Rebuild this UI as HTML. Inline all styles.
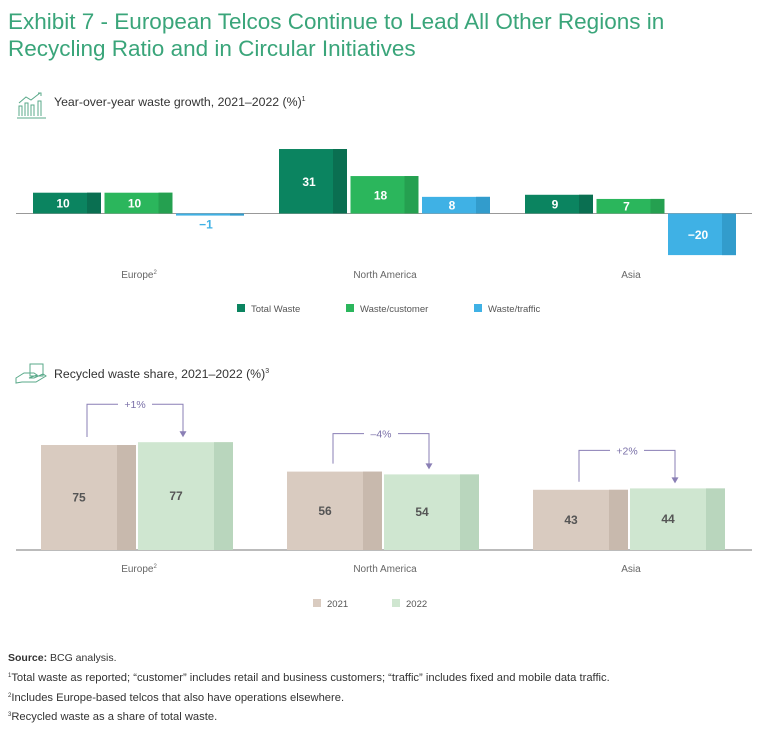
<!DOCTYPE html>
<html><head><meta charset="utf-8"><style>
body{margin:0;background:#fff;font-family:"Liberation Sans",sans-serif;}
#wrap{position:relative;width:768px;height:740px;overflow:hidden;}
.t{position:absolute;white-space:nowrap;}
</style></head><body>
<div id="wrap">
<div class="t" style="left:8px;top:8px;font-size:22.5px;line-height:27px;color:#3aa57a;">Exhibit 7 - European Telcos Continue to Lead All Other Regions in<br>Recycling Ratio and in Circular Initiatives</div>
<svg width="768" height="740" style="position:absolute;left:0;top:0">
<g fill="none" stroke="#5aa98a" stroke-width="1">
<path d="M17 118h29M19 116v-10h3v10M25 116v-13h3v13M31 116v-11h3v11M38 116v-15h3v15M19 103l7-6 5 3 9-7"/><path d="M38 93h3v3"/></g>
<g fill="none" stroke="#5aa98a" stroke-width="1">
<path d="M30 364h13v12h-13z M16 378l8-5h10l3 2-8 3h5l9-4 3 2-10 6H22l-6 1z"/></g>
<text x="54" y="106" font-size="12.3" fill="#333">Year-over-year waste growth, 2021–2022 (%)<tspan font-size="7" dy="-5">1</tspan></text>
<text x="54" y="378" font-size="12.3" fill="#333">Recycled waste share, 2021–2022 (%)<tspan font-size="7" dy="-5">3</tspan></text>
<g id="c1"></g><g id="c2"></g>
<text x="8" y="661" font-size="10.5" fill="#333"><tspan font-weight="bold">Source:</tspan> BCG analysis.</text>
<text x="8" y="681" font-size="11.2" fill="#333"><tspan font-size="6" dy="-4">1</tspan><tspan dy="4">Total waste as reported; “customer” includes retail and business customers; “traffic” includes fixed and mobile data traffic.</tspan></text>
<text x="8" y="701" font-size="11.2" fill="#333"><tspan font-size="6" dy="-4">2</tspan><tspan dy="4">Includes Europe-based telcos that also have operations elsewhere.</tspan></text>
<text x="8" y="720" font-size="11.2" fill="#333"><tspan font-size="6" dy="-4">3</tspan><tspan dy="4">Recycled waste as a share of total waste.</tspan></text>
</svg>
</div>
<script>
const regions=["Europe","North America","Asia"];
const regionSup=["2","",""];
const totalWaste=[10,31,9];
const wastePerCustomer=[10,18,7];
const wastePerTraffic=[-1,8,-20];
const series1Names=["Total Waste","Waste/customer","Waste/traffic"];
const recycled2021=[75,56,43];
const recycled2022=[77,54,44];
const changeLabels=["+1%","–4%","+2%"];
const years=["2021","2022"];

const NS="http://www.w3.org/2000/svg";
function mk(p,tag,a){const e=document.createElementNS(NS,tag);for(const k in a)e.setAttribute(k,a[k]);p.appendChild(e);return e;}
const c1=document.getElementById('c1'),c2=document.getElementById('c2');
const groupX=i=>33+i*246;
// chart 1
const base1=213.5,k1=2.08;const y1=v=>base1-v*k1;
const cols1=[["#0b8460","#0a6f51"],["#2bb65c","#25a050"],["#3fb1e5","#329ccc"]];
const s1=[totalWaste,wastePerCustomer,wastePerTraffic];
mk(c1,'line',{x1:16,x2:752,y1:base1,y2:base1,stroke:'#999','stroke-width':1});
s1.forEach((arr,si)=>arr.forEach((v,i)=>{
 const x=groupX(i)+si*71.5,w=68,top=Math.min(y1(v),base1),h=Math.max(Math.abs(v*k1),1.5);
 let r=mk(c1,'rect',{x:x,y:top,width:w,height:h,fill:cols1[si][0]});
 
 
 mk(c1,'rect',{x:x+w-14,y:top,width:14,height:h,fill:cols1[si][1]});
 const lbl=v<0?'−'+(-v):String(v);
 let ty,fill;
 if(Math.abs(v)*k1<12){ty=v<0?base1+15:top-4;fill=cols1[si][0];}else{ty=top+h/2+4.5;fill='#fff';}
 let t=mk(c1,'text',{x:x+(w-14)/2+3,y:ty,'text-anchor':'middle','font-size':12,'font-weight':'bold',fill:fill});t.textContent=lbl;
 
}));
regions.forEach((r,i)=>{let t=mk(c1,'text',{x:groupX(i)+106,y:278,'text-anchor':'middle','font-size':10,fill:'#666'});t.textContent=r;
 if(regionSup[i]){let s=mk(t,'tspan',{'font-size':6,dy:-4});s.textContent=regionSup[i];}
 });
const lx1=[237,346,474];
series1Names.forEach((n,i)=>{let r=mk(c1,'rect',{x:lx1[i],y:304,width:8,height:8,fill:cols1[i][0]});
 
 let t=mk(c1,'text',{x:lx1[i]+14,y:312,'font-size':9.5,fill:'#555'});t.textContent=n;
 });
// chart 2
const base2=550,k2=1.4;const y2=v=>base2-v*k2;
const cols2=[["#d9cbc0","#c8b9ad"],["#cfe6d0","#b9d6bd"]];
mk(c2,'line',{x1:16,x2:752,y1:base2,y2:base2,stroke:'#777','stroke-width':1});
[recycled2021,recycled2022].forEach((arr,si)=>arr.forEach((v,i)=>{
 const x=groupX(i)+8+si*97,w=95,top=y2(v),h=v*k2;
 let r=mk(c2,'rect',{x:x,y:top,width:w,height:h,fill:cols2[si][0]});
 
 
 mk(c2,'rect',{x:x+w-19,y:top,width:19,height:h,fill:cols2[si][1]});
 let t=mk(c2,'text',{x:x+(w-19)/2,y:top+h/2+4,'text-anchor':'middle','font-size':12,'font-weight':'bold',fill:'#555'});t.textContent=v;
 
}));
regions.forEach((r,i)=>{
 const xa=groupX(i)+54,xb=groupX(i)+150;
 const t1=y2(recycled2021[i]),t2=y2(recycled2022[i]),by=Math.min(t1,t2)-38;
 let p=mk(c2,'path',{d:`M${xa} ${t1-8}V${by}H${xb}V${t2-10}`,fill:'none',stroke:'#8a7fb5','stroke-width':1});
 
 mk(c2,'path',{d:`M${xb-3.5} ${t2-11}h7l-3.5 6z`,fill:'#8a7fb5'});
 mk(c2,'rect',{x:(xa+xb)/2-17,y:by-6,width:34,height:12,fill:'#fff'});
 let t=mk(c2,'text',{x:(xa+xb)/2,y:by+4,'text-anchor':'middle','font-size':10.5,fill:'#7a70a8'});t.textContent=changeLabels[i];
 
 let c=mk(c2,'text',{x:groupX(i)+106,y:572,'text-anchor':'middle','font-size':10,fill:'#666'});c.textContent=r;
 if(regionSup[i]){let s=mk(c,'tspan',{'font-size':6,dy:-4});s.textContent=regionSup[i];}
 
});
const lx2=[313,392];
years.forEach((n,i)=>{let r=mk(c2,'rect',{x:lx2[i],y:599,width:8,height:8,fill:cols2[i][0]});
 
 let t=mk(c2,'text',{x:lx2[i]+14,y:607,'font-size':9.5,fill:'#555'});t.textContent=n;
 });
</script>
</body></html>
